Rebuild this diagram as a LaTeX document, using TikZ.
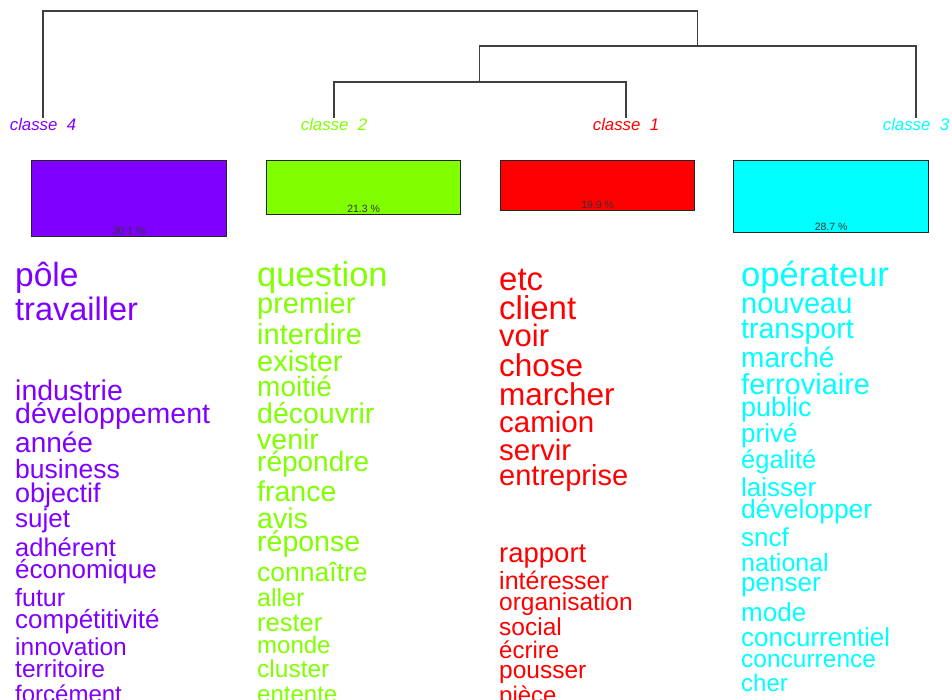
\documentclass[tikz,border=0pt]{standalone}
\usepackage{fontspec}
\setmainfont{Liberation Sans}
\usetikzlibrary{positioning}
\definecolor{cfour}{HTML}{8000FF}
\definecolor{ctwo}{HTML}{80FF00}
\definecolor{cone}{HTML}{FF0000}
\definecolor{cthree}{HTML}{00FFFF}
\begin{document}
\begin{tikzpicture}[x=1pt, y=-1pt,
        sz/.style={font=\fontsize{#1}{#1}\selectfont},
        classlabel/.style={anchor=north, inner sep=0pt, font=\fontsize{16.8}{16.8}\selectfont\itshape},
        classbox/.style={draw=black!85, line width=1.2pt, rectangle, anchor=north west, minimum width=195pt, inner sep=0pt},
        pct/.style={inner sep=0pt, font=\fontsize{10.5}{10.5}\selectfont, text=black!80},
        word/.style={anchor=base west, inner sep=0pt},
        tree/.style={draw=black!75, line width=1.3pt}]
        \useasboundingbox (0,0) rectangle (952,699);
        \clip (0,0) rectangle (952,699);

        \node[classlabel, text=cfour] (cl4) at (43,118) {classe\ \ 4};
        \node[classlabel, text=ctwo] (cl2) at (334,118) {classe\ \ 2};
        \node[classlabel, text=cone] (cl1) at (626,118) {classe\ \ 1};
        \node[classlabel, text=cthree] (cl3) at (916,118) {classe\ \ 3};

        \coordinate (j21) at (479.5,82);
        \coordinate (j213) at (697.5,46);
        \coordinate (root) at (697.5,11);
        \draw[tree] (cl2.north) |- (j21) -| (cl1.north);
        \draw[tree] (j21) |- (j213) -| (cl3.north);
        \draw[tree] (cl4.north) |- (root) -- (j213);

        \node[classbox, fill=cfour, minimum height=76pt] (box4) at (31,160) {};
        \node[classbox, fill=ctwo, minimum width=194pt, minimum height=54pt] (box2) at (266,160) {};
        \node[classbox, fill=cone, minimum width=194pt, minimum height=50pt] (box1) at (500,160) {};
        \node[classbox, fill=cthree, minimum height=72pt] (box3) at (733,160) {};

        \node[pct, above=2pt of box4.south] (p4) {30.1 \%};
        \node[pct, above=2pt of box2.south] (p2) {21.3 \%};
        \node[pct, above=2pt of box1.south] (p1) {19.9 \%};
        \node[pct, above=2pt of box3.south] (p3) {28.7 \%};

        \node[word, text=cfour, sz=33.5] (pole) at (15,286) {pôle};
        \node[word, text=cfour, sz=32.5] (travailler) at (15,320) {travailler};
        \node[word, text=cfour, sz=28.5] (industrie) at (15,400.5) {industrie};
        \node[word, text=cfour, sz=28.5] (developpement) at (15,423.5) {développement};
        \node[word, text=cfour, sz=28] (annee) at (15,452) {année};
        \node[word, text=cfour, sz=26.5] (business) at (15,478.5) {business};
        \node[word, text=cfour, sz=27] (objectif) at (15,502) {objectif};
        \node[word, text=cfour, sz=26] (sujet) at (15,527.5) {sujet};
        \node[word, text=cfour, sz=25.5] (adherent) at (15,556) {adhérent};
        \node[word, text=cfour, sz=26] (economique) at (15,578.5) {économique};
        \node[word, text=cfour, sz=25] (futur) at (15,606) {futur};
        \node[word, text=cfour, sz=26] (competitivite) at (15,628.5) {compétitivité};
        \node[word, text=cfour, sz=24.5] (innovation) at (15,655) {innovation};
        \node[word, text=cfour, sz=24.5] (territoire) at (15,677.5) {territoire};
        \node[word, text=cfour, sz=24] (forcement) at (15,702) {forcément};

        \node[word, text=ctwo, sz=34.5] (question) at (257,286) {question};
        \node[word, text=ctwo, sz=29] (premier) at (257,313.5) {premier};
        \node[word, text=ctwo, sz=29] (interdire) at (257,344.5) {interdire};
        \node[word, text=ctwo, sz=29] (exister) at (257,371.5) {exister};
        \node[word, text=ctwo, sz=28] (moitie) at (257,396.5) {moitié};
        \node[word, text=ctwo, sz=28.5] (decouvrir) at (257,423.5) {découvrir};
        \node[word, text=ctwo, sz=28.5] (venir) at (257,449.5) {venir};
        \node[word, text=ctwo, sz=28] (repondre) at (257,471.5) {répondre};
        \node[word, text=ctwo, sz=28.5] (france) at (257,501.5) {france};
        \node[word, text=ctwo, sz=28.5] (avis) at (257,528.5) {avis};
        \node[word, text=ctwo, sz=28.5] (reponse) at (257,551.5) {réponse};
        \node[word, text=ctwo, sz=26.5] (connaitre) at (257,581) {connaître};
        \node[word, text=ctwo, sz=25] (aller) at (257,606) {aller};
        \node[word, text=ctwo, sz=25.5] (rester) at (257,631) {rester};
        \node[word, text=ctwo, sz=24] (monde) at (257,653.5) {monde};
        \node[word, text=ctwo, sz=24.5] (cluster) at (257,677.5) {cluster};
        \node[word, text=ctwo, sz=24] (entente) at (257,702) {entente};

        \node[word, text=cone, sz=33] (etc) at (499,290) {etc};
        \node[word, text=cone, sz=33] (client) at (499,319.5) {client};
        \node[word, text=cone, sz=31] (voir) at (499,346.5) {voir};
        \node[word, text=cone, sz=31.5] (chose) at (499,376) {chose};
        \node[word, text=cone, sz=31.5] (marcher) at (499,405) {marcher};
        \node[word, text=cone, sz=29.5] (camion) at (499,432.5) {camion};
        \node[word, text=cone, sz=29.5] (servir) at (499,460) {servir};
        \node[word, text=cone, sz=29] (entreprise) at (499,485) {entreprise};
        \node[word, text=cone, sz=27.5] (rapport) at (499,562.5) {rapport};
        \node[word, text=cone, sz=25] (interesser) at (499,589.5) {intéresser};
        \node[word, text=cone, sz=24.5] (organisation) at (499,610) {organisation};
        \node[word, text=cone, sz=24.5] (social) at (499,635) {social};
        \node[word, text=cone, sz=24] (ecrire) at (499,658.5) {écrire};
        \node[word, text=cone, sz=24.5] (pousser) at (499,678.5) {pousser};
        \node[word, text=cone, sz=24] (piece) at (499,703) {pièce};

        \node[word, text=cthree, sz=34.5] (operateur) at (741,286) {opérateur};
        \node[word, text=cthree, sz=29] (nouveau) at (741,313.5) {nouveau};
        \node[word, text=cthree, sz=28.5] (transport) at (741,338.5) {transport};
        \node[word, text=cthree, sz=28] (marche) at (741,367.5) {marché};
        \node[word, text=cthree, sz=29] (ferroviaire) at (741,394) {ferroviaire};
        \node[word, text=cthree, sz=27] (public) at (741,416.5) {public};
        \node[word, text=cthree, sz=26] (prive) at (741,442.5) {privé};
        \node[word, text=cthree, sz=25.5] (egalite) at (741,468.5) {égalité};
        \node[word, text=cthree, sz=26] (laisser) at (741,496.5) {laisser};
        \node[word, text=cthree, sz=26.5] (developper) at (741,518.5) {développer};
        \node[word, text=cthree, sz=26] (sncf) at (741,546.5) {sncf};
        \node[word, text=cthree, sz=25] (national) at (741,571.5) {national};
        \node[word, text=cthree, sz=26] (penser) at (741,591) {penser};
        \node[word, text=cthree, sz=26] (mode) at (741,621) {mode};
        \node[word, text=cthree, sz=26] (concurrentiel) at (741,646) {concurrentiel};
        \node[word, text=cthree, sz=24.5] (concurrence) at (741,667) {concurrence};
        \node[word, text=cthree, sz=24] (cher) at (741,691) {cher};
    \end{tikzpicture}
\end{document}
